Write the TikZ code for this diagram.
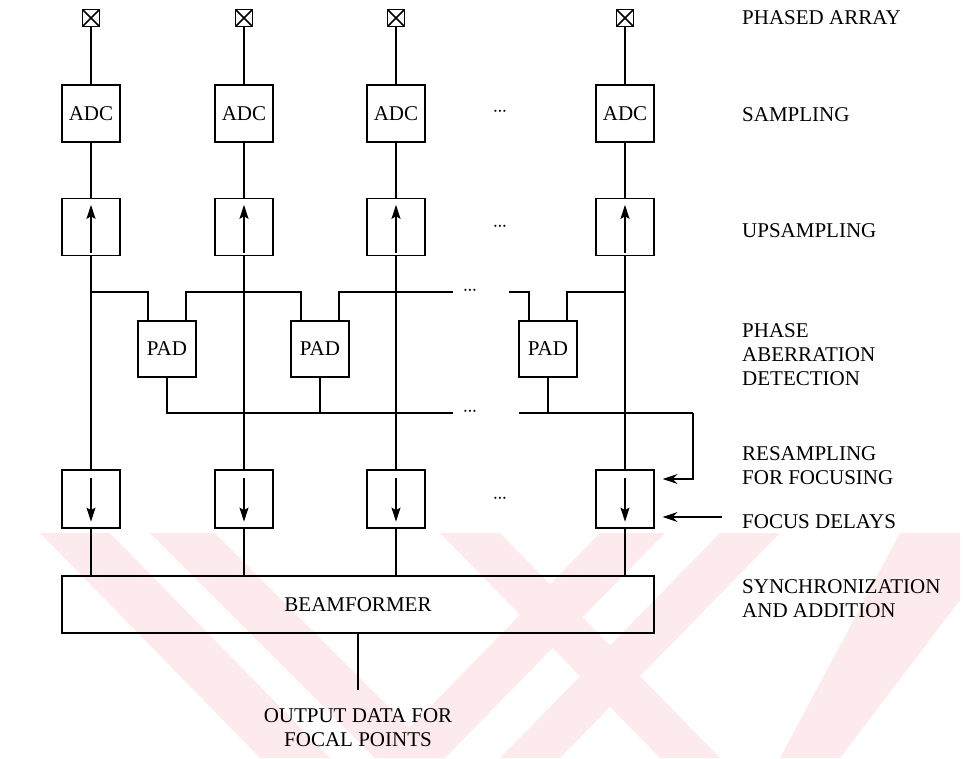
\documentclass[tikz,border=0pt]{standalone}
\usepackage{fontspec}
\setmainfont{Liberation Serif}
\usetikzlibrary{arrows.meta}
\definecolor{wmpink}{RGB}{253,234,237}

\tikzset{
  blk/.style={draw, line width=1.3pt, minimum width=58pt, minimum height=57pt,
    inner sep=0pt, font=\fontsize{21}{24}\selectfont},
  elem/.style={draw, line width=1.7pt, minimum size=17pt, inner sep=0pt,
    path picture={\draw[line width=1.5pt]
      (path picture bounding box.north west) -- (path picture bounding box.south east)
      (path picture bounding box.north east) -- (path picture bounding box.south west);}},
  lbl/.style={anchor=west, align=left, inner sep=0pt, font=\fontsize{21}{24}\selectfont},
  wire/.style={line width=1.3pt},
  inarrow/.style={wire, -{Stealth[length=14pt,width=9pt,inset=2.5pt]}},
  sidearrow/.style={wire, -{Stealth[length=15pt,width=10pt,inset=5pt]}},
  dots/.style={font=\fontsize{20}{20}\selectfont, inner sep=0pt}
}
\newcommand{\tightdots}{$\cdot\mkern-5mu\cdot\mkern-5mu\cdot$}

\begin{document}
\begin{tikzpicture}[x=1pt,y=-1pt]
  \useasboundingbox (0,0) rectangle (963,758);
  % Watermark
  \begin{scope}
    \clip (30,533) rectangle (963,758);
    \fill[wmpink] (40,533) -- (110,533) -- (330,758) -- (260,758) -- cycle;
    \fill[wmpink] (150,533) -- (215,533) -- (440,758) -- (375,758) -- cycle;
    \fill[wmpink] (380,758) -- (445,758) -- (665,533) -- (600,533) -- cycle;
    \fill[wmpink] (500,758) -- (560,758) -- (780,533) -- (720,533) -- cycle;
    \fill[wmpink] (440,533) -- (500,533) -- (720,758) -- (660,758) -- cycle;
    \fill[wmpink] (780,758) -- (840,758) -- (960,600) -- (960,533) -- (900,533) -- cycle;
  \end{scope}
  % Array elements
  \node[elem] (e1) at (91,18) {};
  \node[elem] (e2) at (244,18) {};
  \node[elem] (e3) at (396,18) {};
  \node[elem] (e4) at (625,18) {};
  % Sampling
  \node[blk] (adc1) at (91,113.5) {ADC};
  \node[blk] (adc2) at (244,113.5) {ADC};
  \node[blk] (adc3) at (396,113.5) {ADC};
  \node[blk] (adc4) at (625,113.5) {ADC};
  % Upsampling
  \node[blk] (up1) at (91,227) {};
  \node[blk] (up2) at (244,227) {};
  \node[blk] (up3) at (396,227) {};
  \node[blk] (up4) at (625,227) {};
  % Phase aberration detection
  \node[blk, minimum height=56pt] (pad1) at (167,349) {PAD};
  \node[blk, minimum height=56pt] (pad2) at (320,349) {PAD};
  \node[blk, minimum height=56pt] (pad3) at (548,349) {PAD};
  % Resampling
  \node[blk, minimum height=58pt] (dn1) at (91,499) {};
  \node[blk, minimum height=58pt] (dn2) at (244,499) {};
  \node[blk, minimum height=58pt] (dn3) at (396,499) {};
  \node[blk, minimum height=58pt] (dn4) at (625,499) {};
  % Beamformer
  \node[blk, minimum width=592pt] (bf) at (358,604.5) {BEAMFORMER};
  \node[lbl, anchor=north, align=center] (out) at (358,708) {OUTPUT DATA FOR\\FOCAL POINTS};
  \coordinate (outend) at (358,690);
  % Dots
  \node[dots] (d1) at (500,112) {\tightdots};
  \node[dots] (d2) at (500,227) {\tightdots};
  \node[dots] (d3) at (470,291) {\tightdots};
  \node[dots] (d4) at (470,412) {\tightdots};
  \node[dots] (d5) at (500,499) {\tightdots};
  % Column lines
  \draw[wire] (e1) -- (adc1) (adc1) -- (up1) (up1) -- (dn1) (dn1) -- (dn1.south |- bf.north);
  \draw[wire] (e2) -- (adc2) (adc2) -- (up2) (up2) -- (dn2) (dn2) -- (dn2.south |- bf.north);
  \draw[wire] (e3) -- (adc3) (adc3) -- (up3) (up3) -- (dn3) (dn3) -- (dn3.south |- bf.north);
  \draw[wire] (e4) -- (adc4) (adc4) -- (up4) (up4) -- (dn4) (dn4) -- (dn4.south |- bf.north);
  \draw[wire] (bf) -- (outend);
  % Arrows inside the boxes
  \foreach \n in {up1,up2,up3,up4}
    \draw[inarrow] ([yshift=3pt]\n.south) -- ([yshift=-7pt]\n.north);
  \foreach \n in {dn1,dn2,dn3,dn4}
    \draw[inarrow] ([yshift=-9pt]\n.north) -- ([yshift=7pt]\n.south);
  % PAD inputs
  \coordinate (hi) at (0,292);
  \coordinate (lo) at (0,413);
  \coordinate (hiL) at (453,292);
  \coordinate (hiR) at (509,292);
  \coordinate (loL) at (453,413);
  \coordinate (loR) at (519,413);
  \draw[wire] (hi -| up1.south) -| ([xshift=-19pt]pad1.north);
  \draw[wire] ([xshift=19pt]pad1.north) |- (hi -| up2.south) -| ([xshift=-19pt]pad2.north);
  \draw[wire] ([xshift=19pt]pad2.north) |- (hiL);
  \draw[wire] (hiR) -| ([xshift=-19pt]pad3.north);
  \draw[wire] ([xshift=19pt]pad3.north) |- (hi -| up4.south);
  % PAD outputs
  \coordinate (fb) at (693,413);
  \draw[wire] (pad1.south) |- (loL);
  \draw[wire] (pad2.south) -- (pad2.south |- lo);
  \draw[wire] (loR) -- (fb);
  \draw[wire] (pad3.south) -- (pad3.south |- lo);
  \draw[sidearrow] (fb) |- ([xshift=8pt,yshift=20pt]dn4.east);
  \coordinate (fd) at (722,517);
  \draw[sidearrow] (fd) -- ([xshift=8pt,yshift=-18pt]dn4.east);
  % Stage labels
  \node[lbl] (l1) at (742,18) {PHASED ARRAY};
  \node[lbl] (l2) at (742,115) {SAMPLING};
  \node[lbl] (l3) at (742,231) {UPSAMPLING};
  \node[lbl] (l4) at (742,355) {PHASE\\ABERRATION\\DETECTION};
  \node[lbl] (l5) at (742,466) {RESAMPLING\\FOR FOCUSING};
  \node[lbl] (l6) at (742,522) {FOCUS DELAYS};
  \node[lbl] (l7) at (742,599) {SYNCHRONIZATION\\AND ADDITION};
\end{tikzpicture}
\end{document}
